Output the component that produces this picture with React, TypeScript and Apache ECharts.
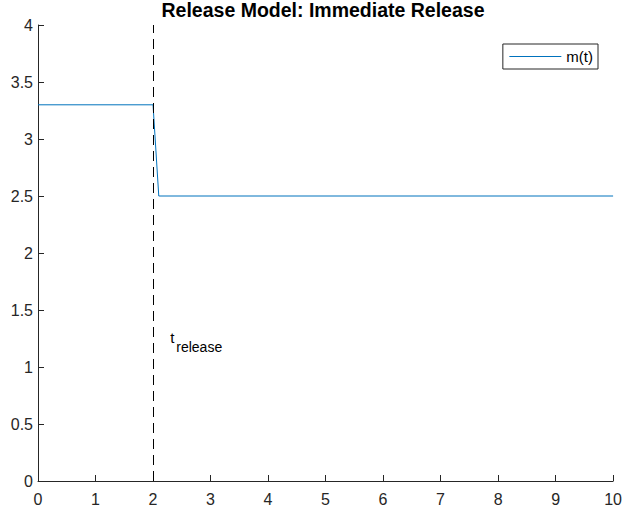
import React, { useEffect, useRef } from "react";
import * as echarts from "echarts";

// m(t): the mass drops immediately after release at t = 2
const timePoints = [0, 2, 2.1, 10];
const massValues = [3.3, 3.3, 2.5, 2.5];
const releaseTime = 2;
const xTicks = { min: 0, max: 10, interval: 1 };
const yTicks = { min: 0, max: 4, interval: 0.5 };
const labelAnchor = [2.3, 1.2];

const AXIS_COLOR = "#262626";
const LINE_COLOR = "#0072BD";
const FONT = "'Liberation Sans', Arial, Helvetica, sans-serif";

export default function App() {
  const ref = useRef<HTMLDivElement>(null);

  useEffect(() => {
    if (!ref.current) return;
    const chart = echarts.init(ref.current, undefined, { renderer: "svg" });

    const axisCommon = {
      type: "value" as const,
      axisLine: { show: true, lineStyle: { color: AXIS_COLOR, width: 1 } },
      axisTick: { show: true, inside: true, length: 6, lineStyle: { color: AXIS_COLOR } },
      axisLabel: { color: AXIS_COLOR, fontSize: 16, fontFamily: FONT },
      splitLine: { show: false },
    };

    chart.setOption({
      animation: false,
      backgroundColor: "#ffffff",
      title: {
        text: "Release Model: Immediate Release",
        left: 323,
        top: 0,
        padding: 0,
        textAlign: "center",
        textStyle: { fontSize: 19.5, fontWeight: "bold", color: "#000", fontFamily: FONT },
      },
      grid: { left: 38, right: 11, top: 25, bottom: 35, containLabel: false },
      legend: {
        data: ["m(t)"],
        right: 27,
        top: 44,
        orient: "vertical",
        backgroundColor: "#fff",
        borderColor: AXIS_COLOR,
        borderWidth: 1,
        borderRadius: 0,
        padding: [5, 5, 5, 6],
        itemWidth: 52,
        itemHeight: 14,
        itemStyle: { opacity: 0 },
        lineStyle: { width: 1, color: LINE_COLOR },
        textStyle: { fontSize: 15, color: "#000", fontFamily: FONT },
      },
      xAxis: {
        ...axisCommon,
        min: xTicks.min,
        max: xTicks.max,
        interval: xTicks.interval,
        axisLabel: { ...axisCommon.axisLabel, margin: 10 },
      },
      yAxis: {
        ...axisCommon,
        min: yTicks.min,
        max: yTicks.max,
        interval: yTicks.interval,
        axisLabel: { ...axisCommon.axisLabel, margin: 5 },
      },
      series: [
        {
          name: "m(t)",
          type: "line",
          data: timePoints.map((t, i) => [t, massValues[i]]),
          symbol: "none",
          lineStyle: { color: LINE_COLOR, width: 1 },
          itemStyle: { color: LINE_COLOR },
          z: 3,
        },
        {
          name: "release",
          type: "line",
          data: [],
          markLine: {
            silent: true,
            symbol: ["none", "none"],
            label: { show: false },
            lineStyle: { color: "#000", width: 1, type: [10, 6] },
            data: [{ xAxis: releaseTime }],
          },
          z: 2,
        },
      ],
    });

    const [px, py] = chart.convertToPixel({ gridIndex: 0 }, labelAnchor) as number[];
    chart.setOption({
      graphic: [
        {
          type: "text",
          x: px,
          y: py - 7,
          style: { text: "t", fontSize: 15, fill: "#000", fontFamily: FONT, align: "left", verticalAlign: "middle" },
        },
        {
          type: "text",
          x: px + 6,
          y: py + 3,
          style: { text: "release", fontSize: 14, fill: "#000", fontFamily: FONT, align: "left", verticalAlign: "middle" },
        },
      ],
    });

    return () => chart.dispose();
  }, []);

  return (
    <div
      ref={ref}
      style={{ position: "absolute", left: 0, top: 0, width: 625, height: 516 }}
    />
  );
}
